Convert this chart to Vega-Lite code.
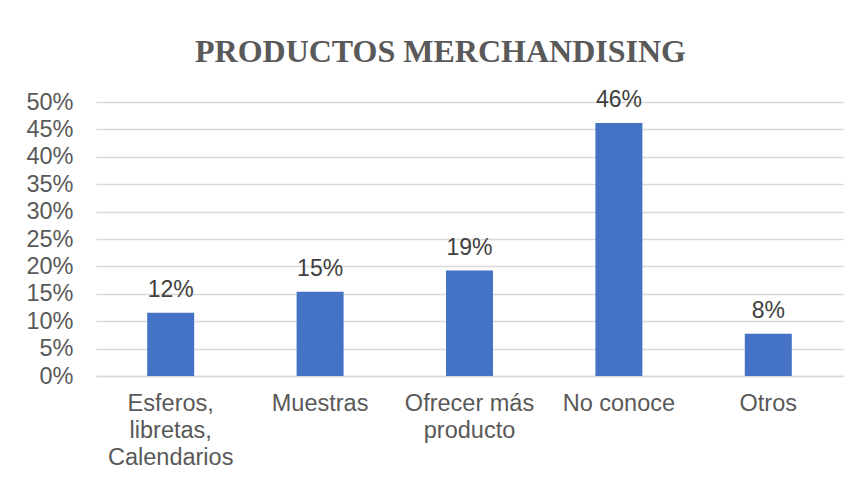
{
  "$schema": "https://vega.github.io/schema/vega-lite/v6.json",
  "width": 747,
  "height": 274,
  "autosize": {"type": "none"},
  "padding": {"left": 96, "top": 102, "right": 16, "bottom": 105},
  "background": "white",
  "title": {
    "text": "PRODUCTOS MERCHANDISING",
    "font": "Liberation Serif",
    "fontSize": 32,
    "fontWeight": "bold",
    "color": "#595959",
    "anchor": "middle",
    "frame": "bounds",
    "offset": 20,
    "dx": 6
  },
  "data": {
    "values": [
      {"cat": "Esferos,|libretas,|Calendarios", "value": 0.1154},
      {"cat": "Muestras", "value": 0.1538},
      {"cat": "Ofrecer más|producto", "value": 0.1923},
      {"cat": "No conoce", "value": 0.4615},
      {"cat": "Otros", "value": 0.0769}
    ]
  },
  "encoding": {
    "x": {
      "field": "cat",
      "type": "nominal",
      "sort": null,
      "title": null,
      "scale": {"paddingInner": 0.685, "paddingOuter": 0.3425},
      "axis": {
        "labelAngle": 0,
        "labelExpr": "split(datum.label, '|')",
        "labelFont": "Liberation Sans",
        "labelFontSize": 23.5,
        "labelColor": "#595959",
        "labelLineHeight": 27,
        "labelPadding": 15,
        "ticks": false,
        "domainColor": "#d9d9d9",
        "domainWidth": 1.5,
        "labelBaseline": "top"
      }
    },
    "y": {
      "field": "value",
      "type": "quantitative",
      "title": null,
      "scale": {"domain": [0, 0.5]},
      "axis": {
        "format": ".0%",
        "values": [0, 0.05, 0.1, 0.15, 0.2, 0.25, 0.3, 0.35, 0.4, 0.45, 0.5],
        "labelFont": "Liberation Sans",
        "labelFontSize": 23.5,
        "labelColor": "#595959",
        "labelPadding": 23,
        "ticks": false,
        "domain": false,
        "gridColor": "#d9d9d9",
        "gridWidth": 1.5
      }
    }
  },
  "layer": [
    {"mark": {"type": "bar", "color": "#4472C4", "size": 47}},
    {
      "mark": {
        "type": "text",
        "font": "Liberation Sans",
        "fontSize": 23,
        "color": "#404040",
        "baseline": "alphabetic",
        "dy": -16
      },
      "encoding": {"text": {"field": "value", "type": "quantitative", "format": ".0%"}}
    }
  ],
  "config": {"view": {"stroke": null}}
}
